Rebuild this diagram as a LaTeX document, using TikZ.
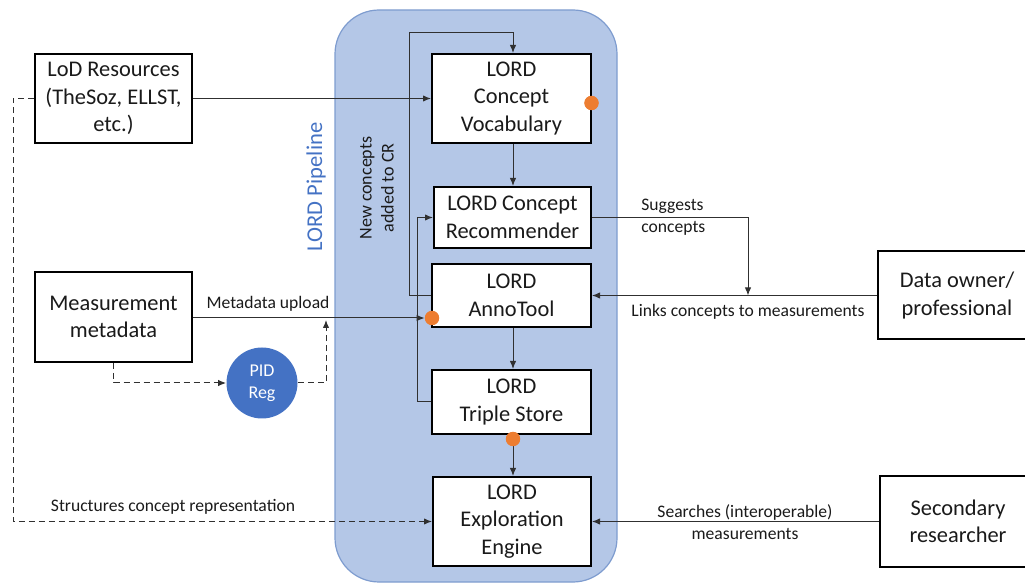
\documentclass[tikz,border=0pt]{standalone}
\usepackage{fontspec}
\setmainfont{Carlito}
\usetikzlibrary{arrows.meta}
\definecolor{pipefill}{HTML}{B4C7E7}
\definecolor{pipeline}{HTML}{7E9CCF}
\definecolor{pipetext}{HTML}{4472C4}
\definecolor{dotorange}{HTML}{ED7D31}
\definecolor{pidblue}{HTML}{4472C4}
\definecolor{txt}{HTML}{1A1A1A}
\definecolor{conn}{HTML}{303030}
\begin{document}
\begin{tikzpicture}[x=0.5pt,y=-0.5pt,
  box/.style={draw=black,line width=1pt,fill=white,align=center,inner sep=0pt,
    text=txt,font=\fontsize{11.2}{13.75}\selectfont,execute at begin node={\vspace*{3pt}}},
  lbl/.style={inner sep=0pt,text=txt,font=\fontsize{8.8}{11}\selectfont},
  arr/.style={draw=conn,line width=0.5pt,-{Latex[length=4pt,width=3.2pt]}},
  plain/.style={draw=conn,line width=0.5pt},
  dsh/.style={dash pattern=on 3pt off 2pt},
  odot/.style={circle,fill=dotorange,inner sep=0pt,minimum size=7pt}]
\useasboundingbox (0,0) rectangle (1025,583);
% pipeline background
\draw[fill=pipefill,draw=pipeline,line width=0.6pt,rounded corners=22pt] (335,10) rectangle (617,582);
\node[rotate=90,text=pipetext,inner sep=0pt,font=\fontsize{11.3}{13.75}\selectfont] (pipe) at (316,187) {LORD Pipeline};
\node[rotate=90,align=center,inner sep=0pt,text=txt,font=\fontsize{9}{11}\selectfont] (newc) at (377,188) {New concepts\\added to CR};
% boxes
\node[box,minimum width=78.5pt,minimum height=44.5pt] (lod) at (113.5,98.5) {LoD Resources\\(TheSoz, ELLST,\\etc.)};
\node[box,minimum width=78.5pt,minimum height=45pt] (meas) at (113.5,317) {Measurement\\metadata};
\node[box,minimum width=79.5pt,minimum height=44.5pt] (vocab) at (511.5,98.5) {LORD\\Concept\\Vocabulary};
\node[box,minimum width=78.5pt,minimum height=30.5pt] (rec) at (512.5,217.5) {LORD Concept\\Recommender};
\node[box,minimum width=79.5pt,minimum height=31.5pt] (anno) at (511.5,295.5) {LORD\\AnnoTool};
\node[box,minimum width=79.5pt,minimum height=32pt] (triple) at (511.5,402) {LORD\\Triple Store};
\node[box,minimum width=79pt,minimum height=44.5pt] (expl) at (512,521.5) {LORD\\Exploration\\Engine};
\node[box,minimum width=79pt,minimum height=44pt] (owner) at (957,295.5) {Data owner/\\professional};
\node[box,minimum width=78pt,minimum height=45pt] (sec) at (958,521.5) {Secondary\\researcher};
\node[circle,fill=pidblue,inner sep=0pt,minimum size=35.5pt,align=center,text=white,font=\fontsize{9}{11}\selectfont,execute at begin node={\vspace*{2.5pt}}] (pid) at (262,383) {PID\\Reg};
% bend coordinates
\coordinate (c1) at (409.5,33);
\coordinate (c2) at (417,217.5);
\coordinate (c3) at (326,320);
\coordinate (c4) at (13,521.5);
\coordinate (c5) at (748,295.5);
% orange dots (positions)
\node[odot] (dv) at (591.5,103) {};
\node[odot] (da) at (432,318) {};
\node[odot] (dt) at (513,439) {};
% connectors
\draw[arr] (lod.east) -- (vocab.west);
\draw[arr] (vocab.south -| 513,0) -- (rec.north -| 513,0);
\draw[arr] (anno.south -| 513,0) -- (triple.north -| 513,0);
\draw[arr] (triple.south -| 513,0) -- (expl.north -| 513,0);
\draw[arr] (anno.west) -| (c1) -| (vocab.north -| 513,0);
\draw[arr] (triple.west) -| (c2) -- (rec.west);
\draw[arr] (meas.east |- da) -- (da.west);
\draw[arr,dsh] (meas.south) |- (pid.west);
\draw[arr,dsh] (pid.east) -| (c3);
\draw[arr,dsh] (lod.west) -| (c4) -- (expl.west);
\draw[arr] (rec.east) -| (c5);
\draw[arr] (owner.west) -- (anno.east);
\draw[arr] (sec.west) -- (expl.east);
% redraw dots on top
\fill[dotorange] (dv) circle (3.6pt);
\fill[dotorange] (da) circle (3.6pt);
\fill[dotorange] (dt) circle (3.6pt);
% labels
\node[lbl] (l1) at (268,304) {Metadata upload};
\node[lbl] (l2) at (173,507) {Structures concept representation};
\node[lbl,anchor=west,align=left] (l3) at (641,217) {Suggests\\concepts};
\node[lbl] (l4) at (748,312) {Links concepts to measurements};
\node[lbl,align=center] (l5) at (745,522.5) {Searches (interoperable)\\measurements};
\end{tikzpicture}
\end{document}
